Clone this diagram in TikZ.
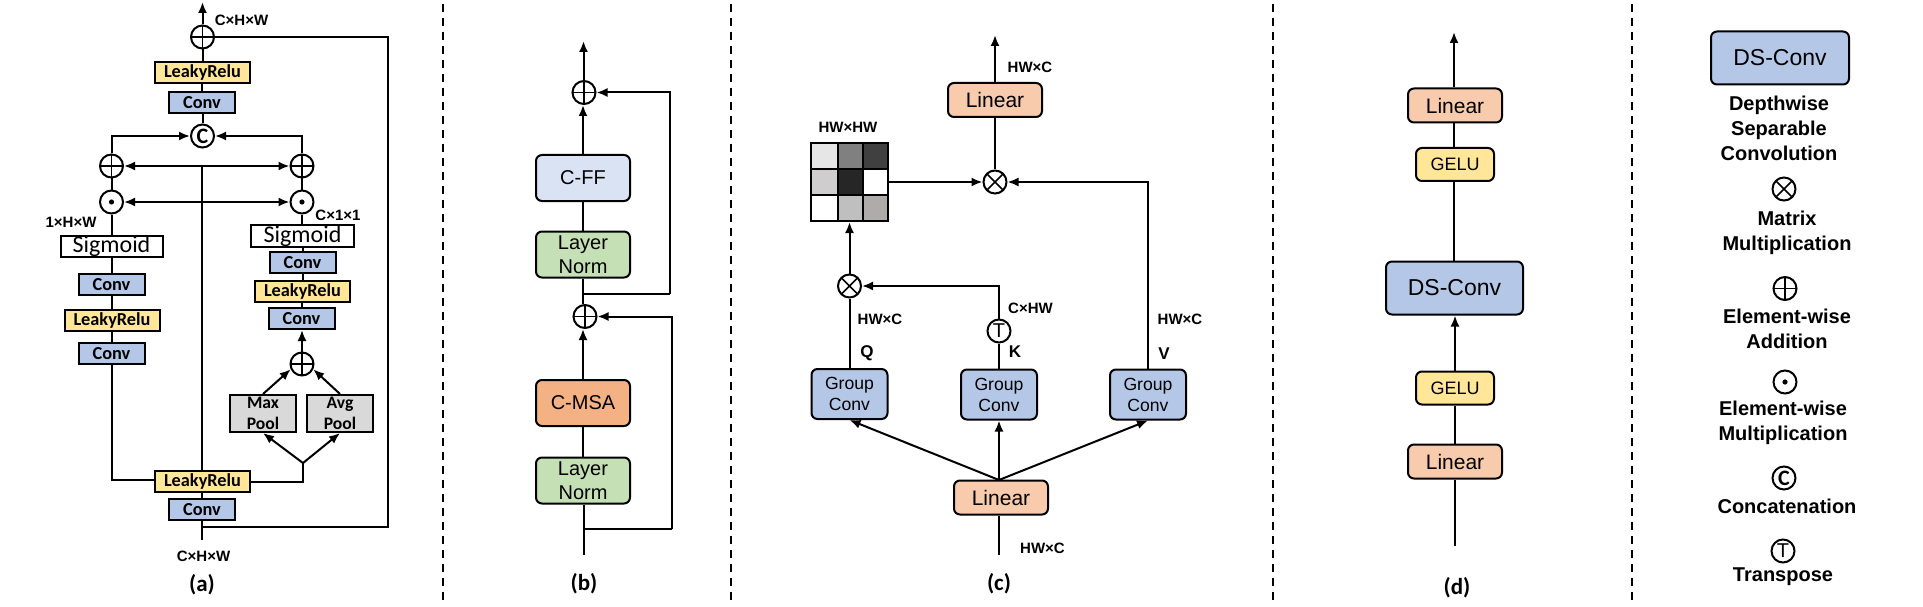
\documentclass[tikz,border=0pt]{standalone}
\usepackage{fontspec}
\setmainfont{Liberation Sans}
\newfontfamily\calib{Carlito}
\usetikzlibrary{arrows.meta}
\definecolor{cblue}{HTML}{B4C7E7}
\definecolor{cyellow}{HTML}{FFE699}
\definecolor{cgreen}{HTML}{C5E0B4}
\definecolor{corange}{HTML}{F4B183}
\definecolor{cpeach}{HTML}{F8CBAD}
\definecolor{cpale}{HTML}{DAE3F3}
\definecolor{cgray}{HTML}{D9D9D9}
\tikzset{
 x=1pt,y=-1pt,
 conn/.style={line width=2pt,draw=black},
 arr/.style={line width=2pt,draw=black,-{Latex[length=11pt,width=9pt]}},
 darr/.style={line width=2pt,draw=black,{Latex[length=11pt,width=9pt]}-{Latex[length=11pt,width=9pt]}},
 sepline/.style={line width=2pt,draw=black,dash pattern=on 8pt off 6pt},
 cbox/.style={draw=black,line width=2pt,inner sep=0pt,align=center,font=\calib\bfseries\fontsize{18.3}{21}\selectfont},
 convbox/.style={cbox,fill=cblue,minimum width=66pt,minimum height=21pt},
 leakybox/.style={cbox,fill=cyellow,minimum width=95pt,minimum height=21pt},
 sigbox/.style={cbox,fill=white,minimum width=102pt,minimum height=21pt,font=\calib\fontsize{24}{24}\selectfont},
 poolbox/.style={cbox,fill=cgray,minimum width=66pt,minimum height=37pt,font=\calib\bfseries\fontsize{17.6}{21}\selectfont},
 rbox/.style={draw=black,line width=2pt,rounded corners=6pt,inner sep=0pt,align=center},
 cfbox/.style={rbox,minimum width=94pt,minimum height=46pt,font=\fontsize{20}{24}\selectfont},
 groupbox/.style={rbox,fill=cblue,minimum width=76pt,minimum height=50pt,font=\fontsize{17.6}{21}\selectfont},
 linbox/.style={rbox,fill=cpeach,minimum width=94pt,minimum height=34pt,font=\fontsize{21}{24}\selectfont},
 gelubox/.style={rbox,fill=cyellow,minimum width=78pt,minimum height=33pt,font=\fontsize{18}{21}\selectfont},
 dsbox/.style={rbox,fill=cblue,minimum width=137pt,minimum height=53pt,font=\fontsize{23}{26}\selectfont},
 opnode/.style={circle,draw=black,line width=2pt,minimum size=23pt,inner sep=0pt},
 opplus/.style={opnode,path picture={\draw[line width=1.6pt] (path picture bounding box.north)--(path picture bounding box.south) (path picture bounding box.west)--(path picture bounding box.east);}},
 optimes/.style={opnode,path picture={\draw[line width=1.6pt] (path picture bounding box.north west)--(path picture bounding box.south east) (path picture bounding box.north east)--(path picture bounding box.south west);}},
 opdot/.style={opnode,path picture={\fill (path picture bounding box.center) circle (2.6pt);}},
 opc/.style={opnode,font=\calib\bfseries\fontsize{22}{22}\selectfont},
 opt/.style={opnode,font=\fontsize{20}{20}\selectfont},
 dimtext/.style={inner sep=0pt,font=\bfseries\fontsize{15}{15}\selectfont},
 captext/.style={inner sep=0pt,font=\calib\bfseries\fontsize{23}{23}\selectfont},
 legtext/.style={inner sep=0pt,font=\bfseries\fontsize{20}{20}\selectfont},
}
\begin{document}
\begin{tikzpicture}
\useasboundingbox (0,0) rectangle (1923,607);
\fill[white] (0,0) rectangle (1923,607);
% separators
\foreach \i/\xx in {1/443,2/731,3/1273,4/1632}{
  \coordinate (sepT\i) at (\xx,4); \coordinate (sepB\i) at (\xx,601);
  \draw[sepline] (sepT\i) -- (sepB\i);
}
% ---------- panel a
\coordinate (aOut) at (202.5,2);
\coordinate (aIn) at (201.5,540);
\coordinate (aHub) at (202,166);
\coordinate (aTap) at (201.5,527);
\coordinate (aSkipB) at (388,527);
\coordinate (aSkipT) at (388,37);
\coordinate (aJun) at (303,463);
\coordinate (aLeftB) at (111.5,480);
\node[opplus] (aPlus) at (202.5,37) {};
\node[leakybox] (aLeaky) at (202.5,72.5) {LeakyRelu};
\node[convbox] (aConv) at (202,102.5) {Conv};
\node[opc] (aC) at (202.5,136) {C};
\node[opplus] (lPlus) at (111.5,166) {};
\node[opplus] (rPlus) at (302,166) {};
\node[opdot] (lDot) at (111.5,202) {};
\node[opdot] (rDot) at (302,202) {};
\node[sigbox] (lSig) at (111.5,246.5) {\raisebox{-1pt}{Sigmoid}};
\node[convbox] (lConv) at (111.5,284.5) {Conv};
\node[leakybox] (lLeaky) at (112,320.5) {LeakyRelu};
\node[convbox] (lConvB) at (111.5,353.5) {Conv};
\node[sigbox,minimum width=103pt,minimum height=22pt] (rSig) at (302.5,236) {\raisebox{-1pt}{Sigmoid}};
\node[convbox] (rConv) at (302.5,262.5) {Conv};
\node[leakybox] (rLeaky) at (302.5,291.5) {LeakyRelu};
\node[convbox] (rConvB) at (301.5,318.5) {Conv};
\node[opplus] (rPlusB) at (302,364) {};
\node[poolbox] (rMax) at (263,413.5) {Max\\Pool};
\node[poolbox] (rAvg) at (340,413.5) {Avg\\Pool};
\node[leakybox] (bLeaky) at (202.5,481.5) {LeakyRelu};
\node[convbox] (bConv) at (202,509.5) {Conv};
\node[dimtext] (dimA1) at (241.5,20) {C×H×W};
\node[dimtext] (dimA2) at (71,222) {1×H×W};
\node[dimtext] (dimA3) at (338,215) {C×1×1};
\node[dimtext] (dimA4) at (203.5,556) {C×H×W};
\node[captext] (capA) at (202,585) {(a)};
\draw[arr] (aPlus.north) -- (aOut);
\draw[conn] (aLeaky.north) -- (aLeaky.north |- aPlus.south);
\draw[conn] (aConv.north) -- (aConv.north |- aLeaky.south);
\draw[conn] (aC.north) -- (aC.north |- aConv.south);
\draw[arr] (lPlus.north) |- (aC.west);
\draw[arr] (rPlus.north) |- (aC.east);
\draw[darr] (lPlus.east) -- (rPlus.west);
\draw[darr] (lDot.east) -- (rDot.west);
\draw[conn] (aHub) -- (aHub |- bLeaky.north);
\draw[conn] (lPlus.south) -- (lDot.north);
\draw[conn] (rPlus.south) -- (rDot.north);
\draw[conn] (lDot.south) -- (lDot.south |- lSig.north);
\draw[conn] (lSig.south) -- (lConv.north);
\draw[conn] (lConv.south) -- (lConv.south |- lLeaky.north);
\draw[conn] (lLeaky.south -| lConvB.north) -- (lConvB.north);
\draw[conn] (lConvB.south) -- (aLeftB) -- (bLeaky.west |- aLeftB);
\draw[conn] (rDot.south) -- (rDot.south |- rSig.north);
\draw[conn] (rSig.south) -- (rSig.south |- rConv.north);
\draw[conn] (rConv.south) -- (rConv.south |- rLeaky.north);
\draw[conn] (rLeaky.south -| rConvB.north) -- (rConvB.north);
\draw[arr] (rPlusB.north) -- (rPlusB.north |- rConvB.south);
\draw[arr] (rMax.north) -- (rPlusB.205);
\draw[arr] (rAvg.north) -- (rPlusB.335);
\draw[arr] (aJun) -- (rMax.south);
\draw[arr] (aJun) -- (rAvg.south);
\draw[conn] (bLeaky.east) -| (aJun);
\draw[conn] (bLeaky.south -| bConv.north) -- (bConv.north);
\draw[conn] (aIn) -- (aIn |- bConv.south);
\draw[conn,line join=miter] (aTap) -- (aSkipB) -- (aSkipT) -- (aPlus.east);
% ---------- panel b
\coordinate (bOut) at (583.5,41);
\coordinate (bIn) at (583.5,555);
\coordinate (bTapU) at (583.5,293.5);
\coordinate (bCornU) at (670,293.5);
\coordinate (bTapD) at (583.5,528.5);
\coordinate (bCornD) at (672,528.5);
\node[opplus] (bPlusU) at (584,92.5) {};
\node[opplus] (bPlusD) at (585,316.5) {};
\node[cfbox,fill=cpale] (bFF) at (583,178) {C-FF};
\node[cfbox,fill=cgreen] (bNormU) at (583,254.5) {\raisebox{-1pt}{Layer}\\\raisebox{-1pt}{Norm}};
\node[cfbox,fill=corange] (bMSA) at (583,403) {C-MSA};
\node[cfbox,fill=cgreen] (bNormD) at (583,480.5) {\raisebox{-1pt}{Layer}\\\raisebox{-1pt}{Norm}};
\node[captext] (capB) at (584,584) {(b)};
\draw[arr] (bPlusU.north -| bOut) -- (bOut);
\draw[arr] (bFF.north) -- (bFF.north |- bPlusU.south);
\draw[conn] (bNormU.north) -- (bFF.south);
\draw[conn] (bNormU.south) -- (bNormU.south |- bPlusD.north);
\draw[conn,line join=miter] (bTapU) -- (bCornU);
\draw[arr] (bCornU) |- (bPlusU.east);
\draw[arr] (bMSA.north) -- (bMSA.north |- bPlusD.south);
\draw[conn] (bNormD.north) -- (bMSA.south);
\draw[conn] (bIn) -- (bIn |- bNormD.south);
\draw[conn] (bTapD) -- (bCornD);
\draw[arr] (bCornD) |- (bPlusD.east);
% ---------- panel c
\coordinate (cOut) at (995,35);
\coordinate (cIn) at (999,555);
\coordinate (cFan) at (999,480);
\foreach \xa/\ya/\xb/\yb/\cc in {
 811/143/838/169/E6E6E6, 838/143/863/169/808080, 863/143/888/169/404040,
 811/169/838/195/CFCDCD, 838/169/863/195/262626, 863/169/888/195/FFFFFF,
 811/195/838/221/FFFFFF, 838/195/863/221/BFBFBF, 863/195/888/221/AFABAB}{
  \definecolor{cellc}{HTML}{\cc}
  \fill[cellc] (\xa,\ya) rectangle (\xb,\yb);
}
\draw[conn] (838,143)--(838,221) (863,143)--(863,221) (811,169)--(888,169) (811,195)--(888,195);
\node[draw=black,line width=2pt,minimum width=77pt,minimum height=78pt,inner sep=0pt] (cMat) at (849.5,182) {};
\node[linbox] (cLinT) at (995,100) {\raisebox{-1.2pt}{Linear}};
\node[optimes] (cXT) at (995,182) {};
\node[optimes] (cXL) at (849.5,286) {};
\node[opt] (cT) at (999,331) {T};
\node[groupbox] (cQ) at (849.5,394) {\raisebox{-1pt}{Group}\\\raisebox{-1pt}{Conv}};
\node[groupbox] (cK) at (999,394.5) {\raisebox{-1pt}{Group}\\\raisebox{-1pt}{Conv}};
\node[groupbox] (cV) at (1148,394.5) {\raisebox{-1pt}{Group}\\\raisebox{-1pt}{Conv}};
\node[linbox] (cLinB) at (1001,497.5) {\raisebox{-1.2pt}{Linear}};
\node[dimtext] (dimC1) at (1030,67) {HW×C};
\node[dimtext] (dimC2) at (848,127) {HW×HW};
\node[dimtext] (dimC3) at (1030.5,308) {C×HW};
\node[dimtext] (dimC4) at (880,319) {HW×C};
\node[dimtext] (dimC5) at (1180,319) {HW×C};
\node[dimtext] (dimC6) at (1042.5,548) {HW×C};
\node[inner sep=0pt,font=\bfseries\fontsize{17}{17}\selectfont] (lblQ) at (867,353) {Q};
\node[inner sep=0pt,font=\bfseries\fontsize{17}{17}\selectfont] (lblK) at (1015,352) {K};
\node[inner sep=0pt,font=\bfseries\fontsize{17}{17}\selectfont] (lblV) at (1164,354) {V};
\node[captext] (capC) at (999,584) {(c)};
\draw[arr] (cLinT.north) -- (cOut);
\draw[conn] (cXT.north) -- (cLinT.south);
\draw[arr] (cMat.east) -- (cXT.west);
\draw[arr] (cV.north) |- (cXT.east);
\draw[arr] (cXL.north) -- (cXL.north |- cMat.south);
\draw[conn] (cQ.north) -- (cXL.south);
\draw[arr] (cT.north) |- (cXL.east);
\draw[conn] (cK.north) -- (cT.south);
\draw[arr] (cFan) -- (cQ.south);
\draw[arr] (cFan) -- (cK.south);
\draw[arr] (cFan) -- (cV.south);
\draw[conn] (cIn) -- (cIn |- cLinB.south);
% ---------- panel d
\coordinate (dOut) at (1454,32);
\coordinate (dIn) at (1455,546);
\node[linbox] (dLinT) at (1455,105.5) {\raisebox{-1.2pt}{Linear}};
\node[gelubox] (dGeT) at (1455,164.5) {GELU};
\node[dsbox] (dDS) at (1454.5,288) {DS-Conv};
\node[gelubox] (dGeB) at (1455,388) {GELU};
\node[linbox] (dLinB) at (1455,461.5) {\raisebox{-1.2pt}{Linear}};
\node[captext] (capD) at (1457,588) {(d)};
\draw[arr] (dOut |- dLinT.north) -- (dOut);
\draw[conn] (dOut |- dGeT.north) -- (dOut |- dLinT.south);
\draw[conn] (dOut |- dDS.north) -- (dOut |- dGeT.south);
\draw[arr] (dGeB.north) -- (dDS.south -| dGeB.north);
\draw[conn] (dGeB.south) -- (dLinB.north);
\draw[conn] (dIn) -- (dLinB.south);
% ---------- legend
\node[dsbox,minimum width=138pt] (gDS) at (1780,58) {DS-Conv};
\node[legtext,align=center] (gT1) at (1779,128.5) {Depthwise\\[5pt]Separable\\[5pt]Convolution};
\node[optimes] (gX) at (1784,189) {};
\node[legtext,align=center] (gT2) at (1787,232.5) {Matrix\\[5pt]Multiplication};
\node[opplus] (gP) at (1785,288.5) {};
\node[legtext,align=center] (gT3) at (1787,328.5) {Element-wise\\[5pt]Addition};
\node[opdot] (gD) at (1785,382) {};
\node[legtext,align=center] (gT4) at (1783,422.5) {Element-wise\\[5pt]Multiplication};
\node[opc] (gC) at (1784,478) {C};
\node[legtext] (gT5) at (1787,506) {Concatenation};
\node[opt] (gTr) at (1783,551) {T};
\node[legtext] (gT6) at (1783,577) {Transpose};
\end{tikzpicture}
\end{document}
